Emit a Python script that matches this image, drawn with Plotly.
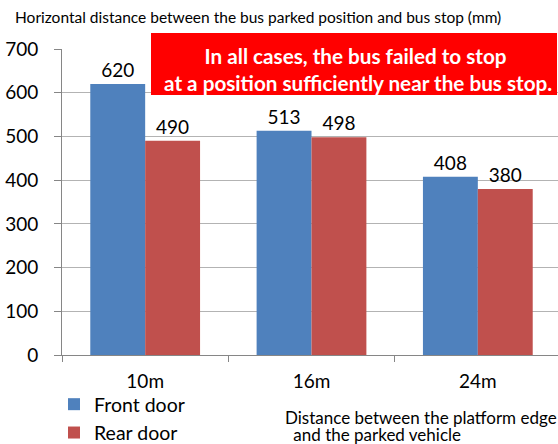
import plotly.graph_objects as go

categories = ["10m", "16m", "24m"]
front_door = [620, 513, 408]
rear_door = [490, 498, 380]
series_names = ["Front door", "Rear door"]
y_ticks = [0, 100, 200, 300, 400, 500, 600, 700]

title_text = "Horizontal distance between the bus parked position and bus stop (mm)"
callout_text = "In all cases, the bus failed to stop<br> at a position sufficiently near the bus stop."
xaxis_title_lines = ["Distance between the platform edge", " and the parked vehicle"]

FONT = "Lato, Carlito, Calibri, sans-serif"
W, H = 558, 444
L, R, T, B = 62, 0, 49, 89
PW = W - L - R
PH = H - T - B

def px_x(x):
    return (x - L) / PW

def px_y(y):
    return (H - B - y) / PH

fig = go.Figure()
fig.add_trace(go.Bar(
    x=categories, y=front_door, name=series_names[0],
    marker=dict(color="#4F81BD", line=dict(width=0)),
    text=[str(v) for v in front_door], textposition="outside",
    textfont=dict(size=19, color="black", family=FONT), cliponaxis=False,
))
fig.add_trace(go.Bar(
    x=categories, y=rear_door, name=series_names[1],
    marker=dict(color="#C0504D", line=dict(width=0)),
    text=[str(v) for v in rear_door], textposition="outside",
    textfont=dict(size=19, color="black", family=FONT), cliponaxis=False,
))

fig.update_layout(
    width=W, height=H,
    margin=dict(l=L, r=R, t=T, b=B, pad=0, autoexpand=False),
    paper_bgcolor="white", plot_bgcolor="white",
    font=dict(family=FONT, color="black"),
    barmode="group", bargap=0.34, bargroupgap=0,
    title=dict(text=title_text, x=15 / W, xref="container", xanchor="left",
               y=1 - 18 / H, yref="container", yanchor="middle",
               font=dict(size=15.5, family=FONT, color="black"), automargin=False),
    showlegend=True,
    legend=dict(x=54 / W, y=1 - 385 / H, xref="container", yref="container",
                xanchor="left", yanchor="top",
                orientation="v", font=dict(size=19.5, family=FONT),
                bgcolor="rgba(0,0,0,0)", traceorder="normal",
                itemclick=False, tracegroupgap=0),
    uniformtext=dict(mode=False),
)

fig.update_xaxes(
    type="category", range=[-0.5, -0.5 + PW / ((561 - 62) / 3)],
    automargin=False,
    showline=True, linecolor="#868686", linewidth=1,
    ticks="outside", tickson="boundaries", ticklen=6, tickcolor="#868686",
    tickfont=dict(size=19, family=FONT, color="black"),
    ticklabelstandoff=9,
    showgrid=False, zeroline=False,
)
fig.update_yaxes(
    range=[0, 700], tickvals=y_ticks, automargin=False,
    showline=True, linecolor="#868686", linewidth=1,
    ticks="outside", ticklen=7, tickcolor="#868686",
    tickfont=dict(size=19, family=FONT, color="black"),
    ticklabelstandoff=12,
    showgrid=True, gridcolor="#b3b3b3", gridwidth=1, zeroline=False,
)

# red callout box
fig.add_shape(type="rect", xref="paper", yref="paper",
              x0=px_x(151), x1=px_x(557), y0=px_y(95), y1=px_y(33),
              fillcolor="#FF0000", line=dict(width=0), layer="above")
fig.add_annotation(text="<b>" + callout_text + "</b>", xref="paper", yref="paper",
                   x=px_x(355), y=px_y(69), xanchor="center", yanchor="middle",
                   showarrow=False, align="center",
                   font=dict(size=20.7, color="white", family=FONT))

# x-axis title (two lines)
fig.add_annotation(text=xaxis_title_lines[0], xref="paper", yref="paper",
                   x=px_x(283), y=px_y(417), xanchor="left", yanchor="middle",
                   showarrow=False, font=dict(size=17, family=FONT, color="black"))
fig.add_annotation(text=xaxis_title_lines[1], xref="paper", yref="paper",
                   x=px_x(287), y=px_y(434.5), xanchor="left", yanchor="middle",
                   showarrow=False, font=dict(size=17, family=FONT, color="black"))

fig.write_html("out.html", config={"displayModeBar": False},
               post_script="document.body.style.margin='0';")
